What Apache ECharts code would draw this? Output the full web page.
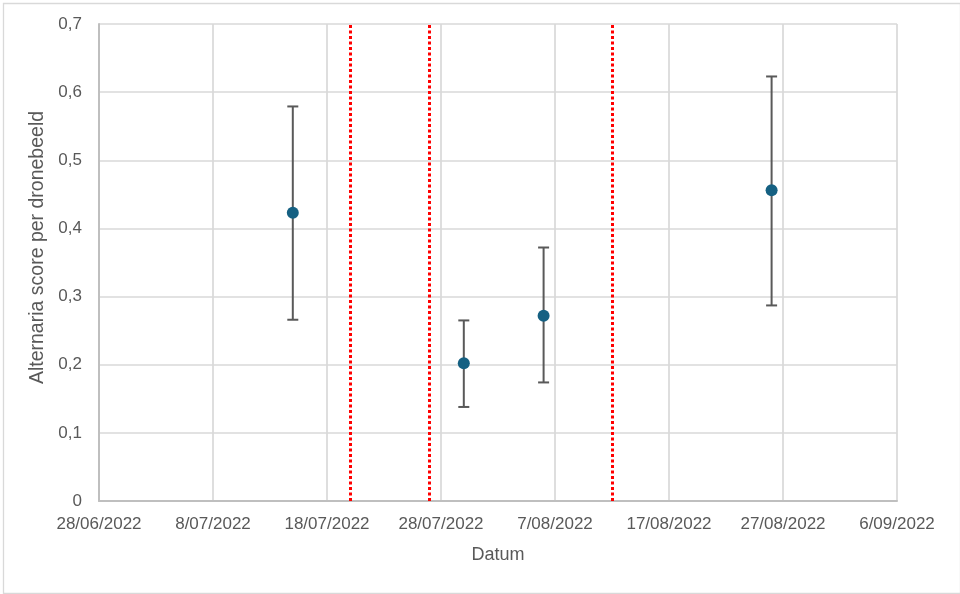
<!DOCTYPE html>
<html>
<head>
<meta charset="utf-8">
<script src="https://cdn.jsdelivr.net/npm/echarts@6/dist/echarts.min.js"></script>
<style>
html,body{margin:0;padding:0;background:#fff;}
#chart{width:960px;height:594px;}
</style>
</head>
<body>
<div id="chart"></div>
<script>
// ---- data ----
const pointDates = ['2022-07-15', '2022-07-30', '2022-08-06', '2022-08-26'];
const meanValues = [0.423, 0.202, 0.272, 0.456];
const lowValues  = [0.266, 0.138, 0.174, 0.287];
const highValues = [0.579, 0.265, 0.372, 0.623];
const redLineDates = ['2022-07-20', '2022-07-27', '2022-08-12'];
const xMinDate = '2022-06-28';
const xMaxDate = '2022-09-06';
const xTickDays = 10;
const yTicks = [0, 0.1, 0.2, 0.3, 0.4, 0.5, 0.6, 0.7];
const xAxisTitle = 'Datum';
const yAxisTitle = 'Alternaria score per dronebeeld';

// Excel-style serial day numbers
const EPOCH = Date.UTC(1899, 11, 30);
function serial(d) { const p = d.split('-').map(Number); return Math.round((Date.UTC(p[0], p[1]-1, p[2]) - EPOCH) / 86400000); }
function fmtSerial(v) { const d = new Date(EPOCH + v * 86400000); const dd = d.getUTCDate(); const mm = String(d.getUTCMonth()+1).padStart(2,'0'); return dd + '/' + mm + '/' + d.getUTCFullYear(); }

const xs = pointDates.map(serial);
const scatterData = xs.map((x, i) => [x, meanValues[i]]);
const errData = xs.map((x, i) => [x, lowValues[i], highValues[i]]);

const chart = echarts.init(document.getElementById('chart'), null, {renderer: 'canvas'});
const textColor = '#595959';
const font = '"Liberation Sans", Arial, sans-serif';

chart.setOption({
  animation: false,
  backgroundColor: '#ffffff',
  textStyle: {fontFamily: font},
  graphic: [{
    type: 'rect', left: 1, top: 1, shape: {x: 0, y: 0, width: 957, height: 590},
    style: {fill: 'none', stroke: '#d9d9d9', lineWidth: 1.3}, silent: true
  }],
  grid: {left: 99, right: 63, top: 24, bottom: 93, containLabel: false},
  xAxis: {
    type: 'value',
    min: serial(xMinDate), max: serial(xMaxDate), interval: xTickDays,
    name: xAxisTitle, nameLocation: 'middle', nameGap: 45,
    nameTextStyle: {color: textColor, fontSize: 18, fontFamily: font},
    axisLine: {show: true, lineStyle: {color: '#bfbfbf', width: 2}},
    axisTick: {show: false},
    axisLabel: {color: textColor, fontSize: 17, margin: 15, fontFamily: font, formatter: v => fmtSerial(v), showMinLabel: true, showMaxLabel: true},
    splitLine: {show: true, lineStyle: {color: '#d9d9d9', width: 1.7}}
  },
  yAxis: {
    type: 'value', min: yTicks[0], max: yTicks[yTicks.length-1], interval: 0.1,
    name: yAxisTitle, nameLocation: 'middle', nameGap: 45, nameRotate: 90,
    nameTextStyle: {color: textColor, fontSize: 19.5, fontFamily: font, padding: [0, 0, 0, 30]},
    axisLine: {show: true, lineStyle: {color: '#bfbfbf', width: 2}},
    axisTick: {show: false},
    axisLabel: {color: textColor, fontSize: 17, margin: 17, fontFamily: font, formatter: v => (Math.round(v*10)/10).toString().replace('.', ',')},
    splitLine: {show: true, lineStyle: {color: '#d9d9d9', width: 1.7}}
  },
  series: [
    {
      type: 'line', data: [], silent: true,
      markLine: {
        symbol: 'none', silent: true, label: {show: false},
        lineStyle: {color: '#ff0000', width: 3, type: [3, 2.5]},
        data: redLineDates.map(d => ({xAxis: serial(d)}))
      }
    },
    {
      type: 'custom', data: errData, z: 3,
      renderItem: function (params, api) {
        const x = api.value(0);
        const lo = api.coord([x, api.value(1)]);
        const hi = api.coord([x, api.value(2)]);
        const hw = 5.5;
        const st = {stroke: '#595959', lineWidth: 2, fill: 'none'};
        return {type: 'group', children: [
          {type: 'line', shape: {x1: lo[0], y1: lo[1], x2: hi[0], y2: hi[1]}, style: st},
          {type: 'line', shape: {x1: lo[0]-hw, y1: lo[1], x2: lo[0]+hw, y2: lo[1]}, style: st},
          {type: 'line', shape: {x1: hi[0]-hw, y1: hi[1], x2: hi[0]+hw, y2: hi[1]}, style: st}
        ]};
      }
    },
    {
      type: 'scatter', data: scatterData, z: 5,
      symbol: 'circle', symbolSize: 12,
      itemStyle: {color: '#156082', opacity: 1}
    }
  ]
});
</script>
</body>
</html>
